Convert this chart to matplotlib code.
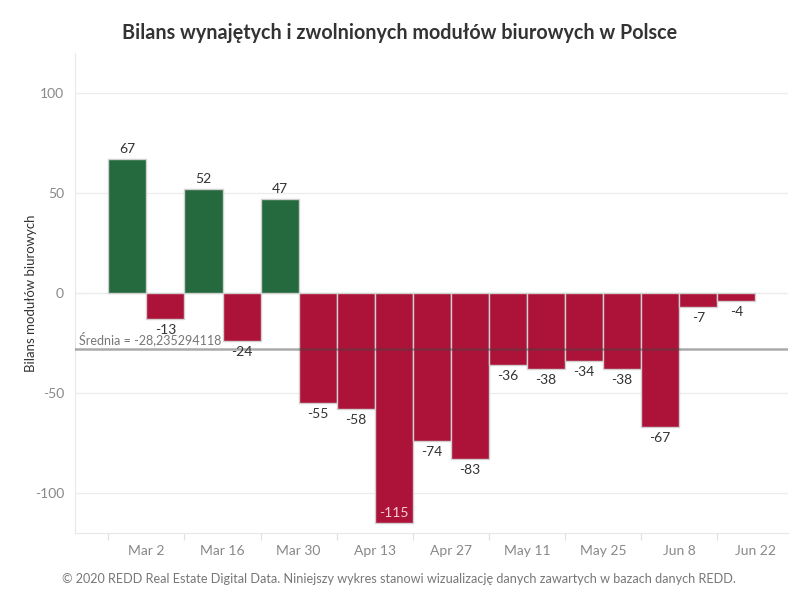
import matplotlib
matplotlib.use("Agg")
import matplotlib.pyplot as plt
import matplotlib.dates as mdates
import numpy as np
import datetime as dt

plt.rcParams['font.family'] = ['Lato', 'DejaVu Sans']

week_starts = ["2020-02-24", "2020-03-02", "2020-03-09", "2020-03-16", "2020-03-23",
               "2020-03-30", "2020-04-06", "2020-04-13", "2020-04-20", "2020-04-27",
               "2020-05-04", "2020-05-11", "2020-05-18", "2020-05-25", "2020-06-01",
               "2020-06-08", "2020-06-15"]
values = [67, -13, 52, -24, 47, -55, -58, -115, -74, -83, -36, -38, -34, -38, -67, -7, -4]
tick_dates = ["2020-03-02", "2020-03-16", "2020-03-30", "2020-04-13", "2020-04-27",
              "2020-05-11", "2020-05-25", "2020-06-08", "2020-06-22"]
tick_labels = ["Mar 2", "Mar 16", "Mar 30", "Apr 13", "Apr 27", "May 11", "May 25", "Jun 8", "Jun 22"]

title = "Bilans wynajętych i zwolnionych modułów biurowych w Polsce"
ylabel = "Bilans modułów biurowych"
footer = "© 2020 REDD Real Estate Digital Data. Niniejszy wykres stanowi wizualizację danych zawartych w bazach danych REDD."

GREEN = "#246a3e"
RED = "#ad1339"

starts = [mdates.date2num(dt.datetime.strptime(d, "%Y-%m-%d")) for d in week_starts]
ticks = [mdates.date2num(dt.datetime.strptime(d, "%Y-%m-%d")) for d in tick_dates]

fig = plt.figure(figsize=(8, 6), dpi=100)
ax = fig.add_axes([0.094, 0.112, 0.891, 0.80])

colors = [GREEN if v > 0 else RED for v in values]
ax.bar(starts, values, width=7, align='edge', color=colors, edgecolor="#d0d0d0",
       linewidth=1.0, zorder=3)

mean = np.mean(values)
ax.axhline(mean, color="#444444", alpha=0.45, linewidth=1.8, zorder=4)
ax.text(starts[0] - 5.4, mean + 1.5, "Średnia = " + f"{mean:.9f}".replace(".", ","),
        color="#777777", fontsize=9, ha='left', va='bottom', zorder=5)

# zero line dotted
ax.axhline(0, color="#c8c8c8", linewidth=0.9, linestyle=(0, (1, 2)), zorder=1)

for s, v in zip(starts, values):
    x = s + 3.5
    if v > 0:
        ax.text(x, v + 2, str(v), ha='center', va='bottom', fontsize=10, color="#333333", zorder=6)
    elif v < -100:
        ax.text(x, v + 2, str(v), ha='center', va='bottom', fontsize=10, color="#f3d0d8", zorder=6)
    else:
        ax.text(x, v - 2.5, str(v), ha='center', va='top', fontsize=10, color="#333333", zorder=6)

ax.set_ylim(-120, 120)
ax.set_xlim(starts[0] - 6.1, ticks[-1] + 6)
ax.set_yticks([-100, -50, 0, 50, 100])
ax.set_yticklabels(["-100", "-50", "0", "50", "100"])
ax.yaxis.grid(True, color="#ececec", linewidth=0.9, zorder=0)
ax.tick_params(axis='y', length=0, labelsize=10, labelcolor="#888888", pad=8)

ax.set_xticks(ticks)
ax.set_xticklabels(tick_labels)
ax.set_xticks([s for s in starts] + [ticks[-1]], minor=True)
ax.tick_params(axis='x', which='major', length=0, labelsize=10, labelcolor="#888888", pad=9)
ax.tick_params(axis='x', which='minor', length=5, color="#e2e2e2", width=0.9)

for sp in ['top', 'right']:
    ax.spines[sp].set_visible(False)
ax.spines['left'].set_color("#e8e8e8")
ax.spines['bottom'].set_color("#e8e8e8")

ax.set_ylabel(ylabel, fontsize=9.5, color="#333333")
ax.yaxis.set_label_coords(-0.054, 0.5)

fig.text(0.5, 0.945, title, ha='center', va='center', fontsize=14.2, fontweight='bold', color="#333333")
fig.text(0.077, 0.035, footer, ha='left', va='center', fontsize=9.1, color="#777777")

fig.savefig("out.png", dpi=100)
